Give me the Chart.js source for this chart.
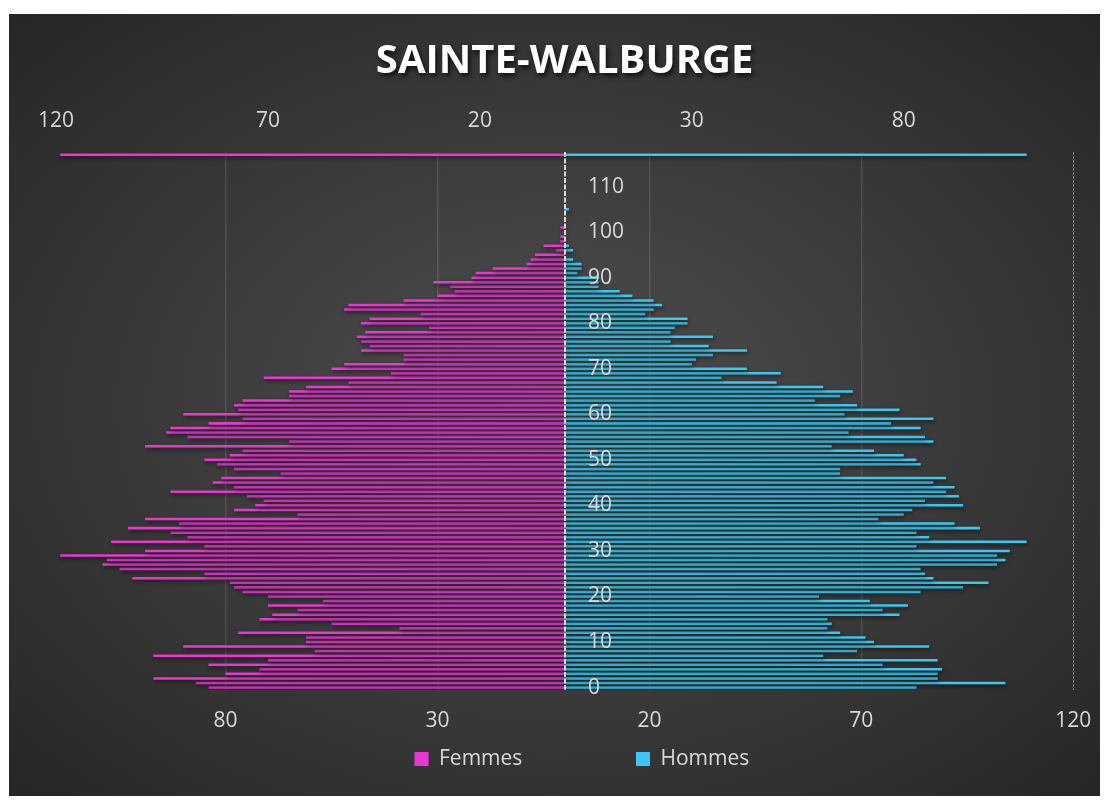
<!DOCTYPE html>
<html>
<head>
<meta charset="utf-8">
<script src="https://cdn.jsdelivr.net/npm/chart.js@4.4.1/dist/chart.umd.min.js"></script>
<style>
  html, body { margin: 0; padding: 0; background: #ffffff; }
  #wrap {
    position: absolute; left: 9px; top: 14px; width: 1091px; height: 782px;
    background: radial-gradient(ellipse farthest-corner at 50% 50%, #4e4e4e 0%, #434343 30%, #262626 100%);
  }
  canvas { display: block; }
</style>
</head>
<body>
<div id="wrap"><canvas id="c" width="1091" height="782"></canvas></div>
<script>
// ---- Data ----
const titleText = 'SAINTE-WALBURGE';
const femmesLabel = 'Femmes';
const hommesLabel = 'Hommes';

// Age categories 0..116, plus the top (maximum) row
const ages = ['0','1','2','3','4','5','6','7','8','9',
  '10','11','12','13','14','15','16','17','18','19',
  '20','21','22','23','24','25','26','27','28','29',
  '30','31','32','33','34','35','36','37','38','39',
  '40','41','42','43','44','45','46','47','48','49',
  '50','51','52','53','54','55','56','57','58','59',
  '60','61','62','63','64','65','66','67','68','69',
  '70','71','72','73','74','75','76','77','78','79',
  '80','81','82','83','84','85','86','87','88','89',
  '90','91','92','93','94','95','96','97','98','99',
  '100','101','102','103','104','105','106','107','108','109',
  '110','111','112','113','114','115','116','117'];

const femmes = [84,87,97,80,72,84,70,97,59,90,
  61,61,77,39,55,72,69,63,70,57,
  70,76,78,79,102,85,105,109,108,119,
  99,85,107,89,93,103,91,99,63,78,
  73,71,75,93,78,83,81,67,78,82,
  85,79,76,99,65,89,94,93,84,76,
  90,77,78,76,65,65,61,51,71,41,
  55,52,38,38,48,46,48,49,47,32,
  48,46,34,52,51,38,30,26,27,31,
  22,21,17,9,8,7,2,5,1,1,
  0,1,0,0,0,0,0,0,0,0,
  0,0,0,0,0,0,0,119];

const hommes = [83,104,88,88,89,75,88,61,69,86,
  73,71,65,62,63,62,79,75,81,72,
  60,84,94,100,87,85,84,102,104,102,
  105,83,109,86,83,98,92,74,80,82,
  94,85,93,90,92,87,90,65,65,84,
  83,80,73,63,87,85,67,84,77,87,
  66,79,69,59,65,68,61,50,37,51,
  43,30,31,35,43,34,25,35,25,26,
  29,29,19,21,23,21,16,13,8,8,
  8,3,4,4,2,0,2,1,0,0,
  0,0,0,0,0,1,0,0,0,0,
  0,0,0,0,0,0,0,109];

const ageTickValues = [0,10,20,30,40,50,60,70,80,90,100,110];
const bottomTicks = [-80,-30,20,70,120];
const topTicks = [-120,-70,-20,0,30,80];
const axisMin = -120;
const axisMax = 120;

// ---- Styling ----
const PINK = '#EA37D4';
const BLUE = '#38C8F2';
const TEXT = '#D9D9D9';
Chart.defaults.font.family = "'Open Sans', sans-serif";
Chart.defaults.color = TEXT;

const canvas = document.getElementById('c');
const ctx = canvas.getContext('2d');
const titleGrad = ctx.createLinearGradient(0, 34, 0, 62);
titleGrad.addColorStop(0, '#FFFFFF');
titleGrad.addColorStop(0.5, '#F1F6FB');
titleGrad.addColorStop(1, '#BCD3EC');

const effects = {
  id: 'effects',
  beforeDraw(chart) {
    const t = chart.titleBlock;
    if (t && !t.__shadowed) {
      const orig = t.draw;
      t.draw = function (...args) {
        const c = this.ctx;
        c.save();
        c.shadowColor = 'rgba(0,0,0,0.75)';
        c.shadowBlur = 5;
        c.shadowOffsetX = 2;
        c.shadowOffsetY = 3;
        orig.apply(this, args);
        c.restore();
      };
      t.__shadowed = true;
    }
  },
  beforeDatasetsDraw(chart) {
    const c = chart.ctx;
    c.save();
    c.shadowColor = 'rgba(0,0,0,0.6)';
    c.shadowBlur = 4;
    c.shadowOffsetX = 1;
    c.shadowOffsetY = 2;
  },
  afterDatasetsDraw(chart) {
    chart.ctx.restore();
  }
};

new Chart(ctx, {
  type: 'bar',
  data: {
    labels: ages,
    datasets: [
      { label: femmesLabel, data: femmes.map(v => -v), backgroundColor: PINK, borderWidth: 0,
        barPercentage: 0.55, categoryPercentage: 1.0, xAxisID: 'x', yAxisID: 'y' },
      { label: hommesLabel, data: hommes, backgroundColor: BLUE, borderWidth: 0,
        barPercentage: 0.55, categoryPercentage: 1.0, xAxisID: 'x', yAxisID: 'y' }
    ]
  },
  options: {
    indexAxis: 'y',
    responsive: false,
    animation: false,
    events: [],
    layout: { padding: { left: 47, right: 26.7, top: 0, bottom: 16.5 } },
    scales: {
      y: {
        type: 'category', position: 'left', reverse: true, stacked: true,
        grid: { display: false, drawTicks: false },
        border: { display: false },
        afterBuildTicks: s => { s.ticks = s.ticks.filter(t => ageTickValues.includes(t.value)); },
        afterFit: s => { s.width = 0; s.paddingTop = 0; s.paddingBottom = 0; },
        ticks: { z: 2, mirror: true, padding: 532, autoSkip: false, crossAlign: 'near',
                 font: { size: 21 }, color: TEXT }
      },
      x: {
        type: 'linear', position: 'bottom', stacked: true, min: axisMin, max: axisMax,
        afterBuildTicks: s => { s.ticks = bottomTicks.map(v => ({ value: v })); },
        afterFit: s => { s.height = 48.7; s.paddingLeft = 0; s.paddingRight = 0; },
        border: { display: false, dash: c => (c.tick && c.tick.value === axisMax) ? [2, 2] : [] },
        grid: {
          drawTicks: false,
          color: c => (c.tick && c.tick.value === axisMax) ? 'rgba(200,200,200,0.75)' : 'rgba(255,255,255,0.11)',
          lineWidth: c => (c.tick && c.tick.value === axisMax) ? 1 : 1.5
        },
        ticks: { autoSkip: false, maxRotation: 0, padding: 18.3, font: { size: 21 }, color: TEXT,
                 callback: v => Math.abs(v) }
      },
      x2: {
        type: 'linear', position: 'top', min: axisMin, max: axisMax,
        afterBuildTicks: s => { s.ticks = topTicks.map(v => ({ value: v })); },
        afterFit: s => { s.height = 66.9; s.paddingLeft = 0; s.paddingRight = 0; },
        border: { display: false, dash: [5, 1.5] },
        grid: {
          z: 1,
          drawTicks: false,
          color: c => (c.tick && c.tick.value === 0) ? '#DADADA' : 'rgba(0,0,0,0)',
          lineWidth: c => (c.tick && c.tick.value === 0) ? 2 : 0
        },
        ticks: { autoSkip: false, maxRotation: 0, padding: 18.4, font: { size: 21 }, color: TEXT,
                 callback: v => (v === 0 ? '' : Math.abs(v)) }
      }
    },
    plugins: {
      title: {
        display: true, text: titleText, color: titleGrad,
        font: { size: 40, weight: 'bold' }, padding: { top: 23.5, bottom: 0 }
      },
      legend: {
        display: true, position: 'bottom', align: 'center', onClick: () => {},
        labels: {
          boxWidth: 14, boxHeight: 14, padding: 10, color: TEXT, font: { size: 21 },
          generateLabels: chart => {
            const items = Chart.defaults.plugins.legend.labels.generateLabels(chart);
            items.forEach(it => { it.lineWidth = 0; it.strokeStyle = 'rgba(0,0,0,0)'; });
            items[0].text = femmesLabel + '                   ';
            return [{ text: '', fillStyle: 'rgba(0,0,0,0)', strokeStyle: 'rgba(0,0,0,0)',
                      lineWidth: 0, hidden: false, datasetIndex: null }].concat(items);
          }
        }
      },
      tooltip: { enabled: false }
    }
  },
  plugins: [effects]
});
</script>
</body>
</html>
